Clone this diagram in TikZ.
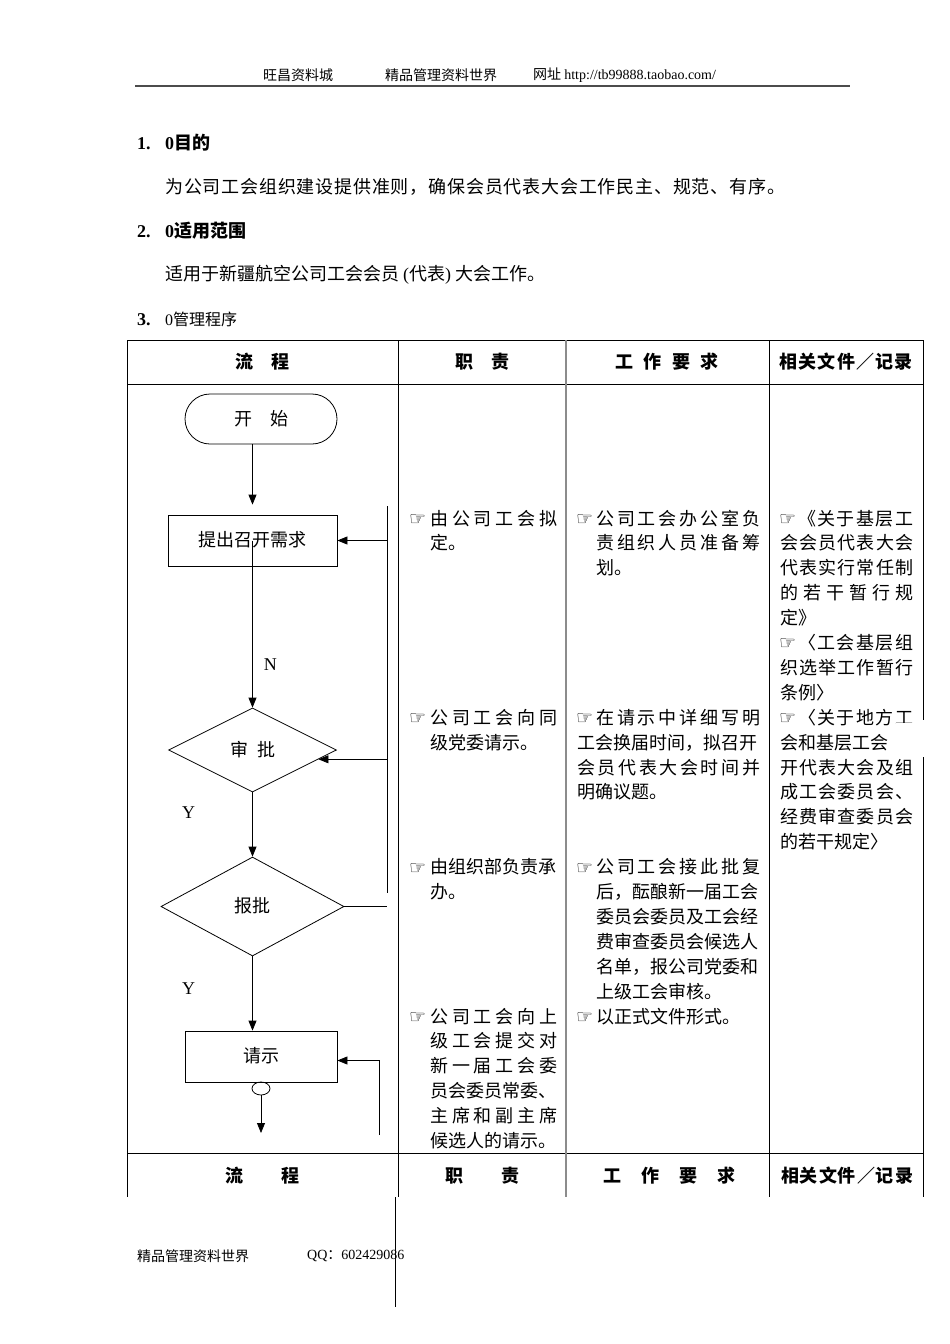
\documentclass[tikz,border=0pt]{standalone}
\usepackage{fontspec}
\setmainfont{Liberation Serif}
\newfontfamily\cjk{Noto Sans CJK SC}
\newfontfamily\sym{DejaVu Sans}
\usetikzlibrary{arrows.meta,shapes.geometric}

% spread the characters of a line over a given width
\ExplSyntaxOn
\NewDocumentCommand \spread { m m }
  { \hbox_to_wd:nn {#1} { \exp_args:No \tl_map_inline:nn {#2} { ##1 \hfil } \unskip } }
\ExplSyntaxOff

\newcommand\cellfont{\cjk\fontsize{18pt}{18pt}\selectfont}
\newcommand\smallfont{\cjk\fontsize{14pt}{14pt}\selectfont}

\tikzset{
  cell/.style={anchor=west, inner sep=0pt, font=\cellfont, text height=14pt, text depth=4pt},
  head/.style={inner sep=0pt, font=\cellfont\bfseries},
  hand/.style={anchor=west, inner sep=0pt, font=\sym\fontsize{19pt}{19pt}\selectfont},
  pagetext/.style={anchor=west, inner sep=0pt, font=\smallfont},
  flowbox/.style={draw, rectangle, line width=0.8pt, inner sep=0pt, font=\cellfont},
  startbox/.style={flowbox, rounded corners=25pt},
  choice/.style={draw, diamond, line width=0.8pt, inner sep=0pt, font=\cellfont},
  yesno/.style={inner sep=0pt, font=\rmfamily\fontsize{18pt}{18pt}\selectfont},
  arr/.style={line width=0.8pt, -{Triangle[length=10pt,width=8pt]}},
  grid line/.style={line width=0.8pt},
}

\begin{document}
\begin{tikzpicture}[x=1pt, y=-1pt]
  \useasboundingbox[fill=white] (0,0) rectangle (950,1344);

  % page header
  \node[pagetext] at (263,75) {旺昌资料城};
  \node[pagetext] at (385,75) {精品管理资料世界};
  \node[pagetext] at (533,75) {网址\ {\rmfamily http://tb99888.taobao.com/}};
  \draw[line width=1.8pt, black!70] (135,86) -- (850,86);

  % sections
  \node[cell, font=\rmfamily\bfseries\fontsize{18pt}{18pt}\selectfont] at (137,144) {1.};
  \node[cell, font=\cellfont\bfseries] at (165,144) {{\rmfamily 0}目的};
  \node[cell] at (165,188) {\spread{620pt}{为公司工会组织建设提供准则，确保会员代表大会工作民主、规范、有序。}};
  \node[cell, font=\rmfamily\bfseries\fontsize{18pt}{18pt}\selectfont] at (137,232) {2.};
  \node[cell, font=\cellfont\bfseries] at (165,232) {{\rmfamily 0}适用范围};
  \node[cell] at (165,275) {适用于新疆航空公司工会会员 {\rmfamily(}代表{\rmfamily)} 大会工作。};
  \node[cell, font=\rmfamily\bfseries\fontsize{18pt}{18pt}\selectfont] at (137,320) {3.};
  \node[cell, font=\cjk\fontsize{16pt}{16pt}\selectfont] at (165,320) {{\rmfamily 0}管理程序};

  % table
  \draw[grid line] (127,340) -- (923,340);
  \draw[grid line] (127,384) -- (923,384);
  \draw[grid line] (127,1153) -- (923,1153);
  \foreach \x in {127,398,769}
    \draw[grid line] (\x,340) -- (\x,1197);
  \draw[line width=1.2pt, black!45] (566,340) -- (566,1197);
  \draw[grid line] (923,340) -- (923,720);
  \draw[grid line] (923,757) -- (923,1197);
  \draw[grid line] (395,1197) -- (395,1307);

  % table headings
  \node[head] at (262,362) {流　程};
  \node[head] at (482,362) {职　责};
  \node[head] at (667,362) {\spread{104pt}{工作要求}};
  \node[head] at (846,362) {\spread{133pt}{相关文件／记录}};
  \node[head] at (262,1176) {\spread{74pt}{流程}};
  \node[head] at (482,1176) {\spread{74pt}{职责}};
  \node[head] at (669,1176) {\spread{132pt}{工作要求}};
  \node[head] at (847,1176) {\spread{132pt}{相关文件／记录}};

  % flow
  \node[startbox, minimum width=152pt, minimum height=50pt] (start) at (261,419) {开　始};
  \node[flowbox, minimum width=169pt, minimum height=51pt] (need) at (252.5,540.5) {\raisebox{3pt}{提出召开需求}};
  \node[choice, minimum width=168pt, minimum height=84pt] (audit) at (252.5,750) {\spread{45pt}{审批}};
  \node[choice, minimum width=183pt, minimum height=99pt] (report) at (252.5,906.5) {\raisebox{3pt}{报批}};
  \node[flowbox, minimum width=152pt, minimum height=51pt] (ask) at (261,1056.5) {\raisebox{3pt}{请示}};
  \node[draw, ellipse, line width=0.8pt, minimum width=18pt, minimum height=13pt, inner sep=0pt] (knot) at (261,1088.5) {};

  \coordinate (bustop) at (387,506);
  \coordinate (busbot) at (387,893);
  \coordinate (loopfoot) at (379,1135);
  \coordinate (flowend) at (261,1133);

  \draw[arr] (start.south -| need.north) -- ([yshift=10pt]need.north);
  \draw[arr] (need.center) -- node[yesno, pos=0.74, right=11pt] {N} (audit.north);
  \draw[arr] (audit.south) -- node[yesno, pos=0.32, left=57pt] {Y} (report.north);
  \draw[arr] (report.south) -- node[yesno, pos=0.43, left=57pt] {Y} (report.south |- ask.north);
  \draw[line width=0.8pt] (bustop) -- (busbot);
  \draw[line width=0.8pt] (report.east) -- (report.east -| bustop);
  \draw[arr] (bustop |- need.east) -- (need.east);
  \draw[arr] (bustop |- audit.-8) -- (audit.-8);
  \draw[arr] (loopfoot) |- ([yshift=-4pt]ask.east);
  \draw[arr] (knot.south) -- (flowend);

  % duties
  \foreach \r in {0,8,14,20}
    \node[hand] at (409,{520+24.9*\r}) {☞};
  \foreach \r/\words in {1/定。, 9/级党委请示。, 14/由组织部负责承, 15/办。, 23/员会委员常委、, 25/候选人的请示。}
    \node[cell] at (430,{520+24.9*\r}) {\words};
  \foreach \r/\words in {0/由公司工会拟, 8/公司工会向同, 20/公司工会向上, 21/级工会提交对, 22/新一届工会委, 24/主席和副主席}
    \node[cell] at (430,{520+24.9*\r}) {\spread{127pt}{\words}};

  % requirements
  \foreach \r in {0,8,14,20}
    \node[hand] at (576,{520+24.9*\r}) {☞};
  \foreach \r/\words in {0/公司工会办公室负, 1/责组织人员准备筹, 8/在请示中详细写明, 14/公司工会接此批复}
    \node[cell] at (596,{520+24.9*\r}) {\spread{164pt}{\words}};
  \foreach \r/\words in {2/划。, 15/后，酝酿新一届工会, 16/委员会委员及工会经, 17/费审查委员会候选人, 18/名单，报公司党委和, 19/上级工会审核。, 20/以正式文件形式。}
    \node[cell] at (596,{520+24.9*\r}) {\words};
  \node[cell] at (577,{520+24.9*9}) {工会换届时间，拟召开};
  \node[cell] at (577,{520+24.9*10}) {\spread{183pt}{会员代表大会时间并}};
  \node[cell] at (577,{520+24.9*11}) {明确议题。};

  % documents
  \foreach \r in {0,5,8}
    \node[hand] at (779,{520+24.9*\r}) {☞};
  \foreach \r/\words in {0/《关于基层工, 5/〈工会基层组}
    \node[cell] at (798,{520+24.9*\r}) {\spread{115pt}{\words}};
  \foreach \r/\words in {1/会会员代表大会, 2/代表实行常任制, 3/的若干暂行规, 6/织选举工作暂行, 10/开代表大会及组, 11/成工会委员会、, 12/经费审查委员会}
    \node[cell] at (780,{520+24.9*\r}) {\spread{133pt}{\words}};
  \foreach \r/\words in {4/定》, 7/条例〉, 9/会和基层工会, 13/的若干规定〉}
    \node[cell] at (780,{520+24.9*\r}) {\words};
  \begin{scope}
    \clip (790,700) -- (930,700) -- (930,722) -- (895,722) -- (895,735) -- (790,735) -- cycle;
    \node[cell] at (798,{520+24.9*8}) {\spread{115pt}{〈关于地方工}};
  \end{scope}

  % page footer
  \node[pagetext] at (137,1256) {精品管理资料世界};
  \node[pagetext] at (307,1256) {{\rmfamily QQ}：{\rmfamily 602429086}};
\end{tikzpicture}
\end{document}
